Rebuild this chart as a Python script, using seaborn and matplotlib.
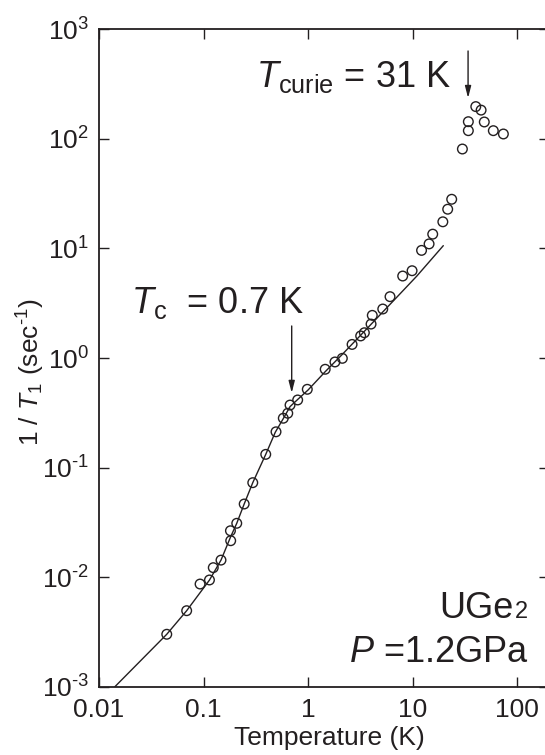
import matplotlib
matplotlib.use("Agg")
import matplotlib.pyplot as plt
import seaborn as sns
import pandas as pd

# ---- data ----
temp_K = [0.0445, 0.069, 0.0927, 0.114, 0.124, 0.147, 0.181, 0.182, 0.208, 0.245,
          0.296, 0.394, 0.494, 0.580, 0.640, 0.673, 0.796, 0.984, 1.46, 1.81,
          2.13, 2.64, 3.19, 3.46, 4.01, 4.12, 5.19, 6.09, 8.05, 9.9,
          12.2, 14.4, 15.6, 19.5, 21.7, 23.7, 30.0, 34.2, 34.2, 40.3,
          45.3, 48.6, 59.3, 74.0]
rate = [0.00301, 0.00494, 0.00865, 0.00942, 0.0122, 0.0143, 0.0265, 0.0215, 0.031, 0.0465,
        0.0728, 0.132, 0.212, 0.282, 0.313, 0.372, 0.414, 0.518, 0.789, 0.92,
        0.993, 1.33, 1.59, 1.70, 2.04, 2.45, 2.80, 3.63, 5.6, 6.26,
        9.6, 11.0, 13.5, 17.5, 22.8, 28.1, 80.8, 118.8, 143.5, 197,
        183, 142.6, 118.8, 110.8]

fit_T = [0.0142, 0.0445, 0.069, 0.114, 0.147, 0.182, 0.208, 0.245, 0.296,
         0.394, 0.486, 0.58, 0.673, 0.80, 1.0, 1.46, 2.13, 3.2, 4.6, 7.0, 11.0, 19.7]
fit_rate = [0.0010, 0.00301, 0.00494, 0.0094, 0.0143, 0.0234, 0.031, 0.0465, 0.0728,
            0.132, 0.21, 0.28, 0.36, 0.42, 0.51, 0.75, 1.08, 1.62, 2.33, 3.55, 5.6, 10.6]

x_ticks = [0.01, 0.1, 1, 10, 100]
x_tick_labels = ["0.01", "0.1", "1", "10", "100"]
y_ticks = [1e-3, 1e-2, 1e-1, 1e0, 1e1, 1e2, 1e3]
y_exponents = ["-3", "-2", "-1", "0", "1", "2", "3"]

points = pd.DataFrame({"T": temp_K, "rate": rate})
fit = pd.DataFrame({"T": fit_T, "rate": fit_rate})

# ---- style ----
sns.set_style("ticks")
plt.rcParams["font.family"] = ["Liberation Sans", "DejaVu Sans"]
plt.rcParams["mathtext.fontset"] = "custom"
plt.rcParams["mathtext.rm"] = "Liberation Sans"
plt.rcParams["mathtext.it"] = "Liberation Sans:italic"
plt.rcParams["mathtext.bf"] = "Liberation Sans:bold"
plt.rcParams["axes.unicode_minus"] = False
ink = "#231f20"

W, H = 545, 755
fig = plt.figure(figsize=(W / 100, H / 100), dpi=100)
ax_l, ax_r, ax_t, ax_b = 99, 548.5, 29.3, 686.7
ax = fig.add_axes([ax_l / W, 1 - ax_b / H, (ax_r - ax_l) / W, (ax_b - ax_t) / H])

sns.lineplot(data=fit, x="T", y="rate", ax=ax, color=ink, linewidth=1.0,
             sort=False, estimator=None)
sns.scatterplot(data=points, x="T", y="rate", ax=ax, marker="o", s=48,
                facecolor="none", edgecolor=ink, linewidth=1.0, zorder=3)

ax.set_xscale("log")
ax.set_yscale("log")
ax.set_xlim(0.01, 200)
ax.set_ylim(1e-3, 1e3)
ax.set_xticks(x_ticks)
ax.set_xticklabels(x_tick_labels)
ax.set_yticks(y_ticks)
ax.set_yticklabels([r"$\mathdefault{10^{\text{%s}}}$" % e for e in y_exponents])
ax.minorticks_off()
ax.tick_params(axis="both", which="major", direction="in", length=7.2, width=1.0,
               color=ink, labelcolor=ink, labelsize=19, top=True, right=True)
ax.tick_params(axis="x", pad=8)
ax.tick_params(axis="y", pad=7)
for s in ax.spines.values():
    s.set_linewidth(1.3)
    s.set_color(ink)
ax.spines["right"].set_visible(False)

ax.set_xlabel("Temperature (K)", fontsize=19, color=ink)
ax.xaxis.label.set_va("baseline")
ax.xaxis.set_label_coords(329 / W, 1 - 745 / H, transform=fig.transFigure)
ax.set_ylabel(r"1 / $\mathit{T}_{1}$ (sec$^{\text{-1}}$)", fontsize=19, color=ink)
ax.yaxis.label.set_va("center")
ax.yaxis.set_label_coords(30.5 / W, 1 - 372 / H, transform=fig.transFigure)

# ---- annotations ----
fs = 26
fig.text(255.8 / W, 1 - 87.3 / H, r"$\mathit{T}_{\mathrm{curie}}$ = 31 K", fontsize=fs,
         color=ink, ha="left", va="baseline")
ax.annotate("", xy=(34.0, 236), xytext=(34.0, 634),
            arrowprops=dict(arrowstyle="-|>,head_length=0.7,head_width=0.18",
                            color=ink, lw=1.0, shrinkA=0, shrinkB=0))
fig.text(131.4 / W, 1 - 312.7 / H, r"$\mathit{T}_{\mathrm{c}}$  = 0.7 K", fontsize=fs,
         color=ink, ha="left", va="baseline")
ax.annotate("", xy=(0.698, 0.48), xytext=(0.698, 1.96),
            arrowprops=dict(arrowstyle="-|>,head_length=0.7,head_width=0.18",
                            color=ink, lw=1.0, shrinkA=0, shrinkB=0))
fig.text(514 / W, 1 - 617.7 / H, "UGe", fontsize=fs, color=ink, ha="right", va="baseline")
fig.text(515 / W, 1 - 617.7 / H, "2", fontsize=17, color=ink, ha="left", va="baseline")
fig.text(529 / W, 1 - 661.7 / H, r"$\mathit{P}$ =1.2GPa", fontsize=fs, color=ink,
         ha="right", va="baseline")

fig.savefig("out.png", dpi=100)
